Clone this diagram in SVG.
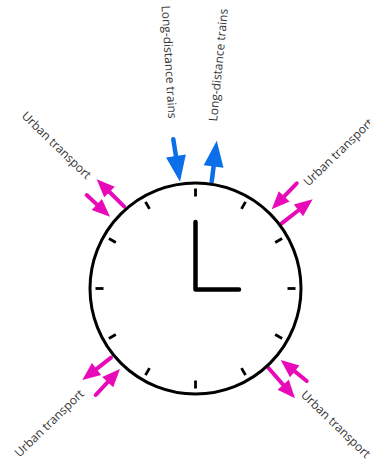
<svg xmlns="http://www.w3.org/2000/svg" width="370" height="460" viewBox="0 0 370 460">
<style>
.lbl{font-family:"Open Sans","Noto Sans",sans-serif;font-size:12px;fill:#333;text-anchor:middle;dominant-baseline:central}
.blue{stroke:#0a6fe8;stroke-width:4.5;stroke-linecap:round;fill:none}
.pink{stroke:#e80ab8;stroke-width:4;stroke-linecap:round;fill:none}
.tick{stroke:#000;stroke-width:2.8}
</style>
<defs>
<marker id="hb" markerUnits="userSpaceOnUse" markerWidth="30" markerHeight="24" refX="0" refY="0" orient="auto" overflow="visible"><path d="M-1,-10 L25,0 L-1,10 Z" fill="#0a6fe8"/></marker>
<marker id="hp" markerUnits="userSpaceOnUse" markerWidth="20" markerHeight="16" refX="0" refY="0" orient="auto" overflow="visible"><path d="M-1,-7.5 L17,0 L-1,7.5 Z" fill="#e80ab8"/></marker>
</defs>
<g id="connectors">
<line class="blue" x1="173.3" y1="139.3" x2="176.1" y2="157" marker-end="url(#hb)"/>
<line class="blue" x1="211.7" y1="181.7" x2="213.7" y2="165.5" marker-end="url(#hb)"/>
<line class="pink" x1="86.7" y1="195" x2="97.56" y2="205.11" marker-end="url(#hp)"/>
<line class="pink" x1="124.3" y1="206.7" x2="108.76" y2="191.28" marker-end="url(#hp)"/>
<line class="pink" x1="296.7" y1="183.3" x2="283.48" y2="197.05" marker-end="url(#hp)"/>
<line class="pink" x1="281.7" y1="223.3" x2="299.26" y2="209.71" marker-end="url(#hp)"/>
<line class="pink" x1="111" y1="357.7" x2="95.72" y2="369.57" marker-end="url(#hp)"/>
<line class="pink" x1="95.7" y1="395" x2="108.39" y2="381.42" marker-end="url(#hp)"/>
<line class="pink" x1="268.3" y1="367.7" x2="283.82" y2="385.49" marker-end="url(#hp)"/>
<line class="pink" x1="306.7" y1="381" x2="293.93" y2="370.68" marker-end="url(#hp)"/>
</g>
<g id="clock">
<circle cx="195.5" cy="288.5" r="105.5" fill="#fff" stroke="#000" stroke-width="3"/>
<g transform="translate(195.5,288.5)">
<line class="tick" x1="0" y1="-92" x2="0" y2="-100"/>
<line class="tick" x1="0" y1="-92" x2="0" y2="-100" transform="rotate(30)"/>
<line class="tick" x1="0" y1="-92" x2="0" y2="-100" transform="rotate(60)"/>
<line class="tick" x1="0" y1="-92" x2="0" y2="-100" transform="rotate(90)"/>
<line class="tick" x1="0" y1="-92" x2="0" y2="-100" transform="rotate(120)"/>
<line class="tick" x1="0" y1="-92" x2="0" y2="-100" transform="rotate(150)"/>
<line class="tick" x1="0" y1="-92" x2="0" y2="-100" transform="rotate(180)"/>
<line class="tick" x1="0" y1="-92" x2="0" y2="-100" transform="rotate(210)"/>
<line class="tick" x1="0" y1="-92" x2="0" y2="-100" transform="rotate(240)"/>
<line class="tick" x1="0" y1="-92" x2="0" y2="-100" transform="rotate(270)"/>
<line class="tick" x1="0" y1="-92" x2="0" y2="-100" transform="rotate(300)"/>
<line class="tick" x1="0" y1="-92" x2="0" y2="-100" transform="rotate(330)"/>
<path d="M0,-66.5 L0,1 L43.5,1" fill="none" stroke="#000" stroke-width="4.5" stroke-linecap="round" stroke-linejoin="round"/>
</g>
</g>
<g id="label-ld-in"><text class="lbl" transform="translate(169.5,62) rotate(86.5)">Long-distance trains</text></g>
<g id="label-ld-out"><text class="lbl" transform="translate(218,65) rotate(-84.5)">Long-distance trains</text></g>
<g id="label-ut-ul"><text class="lbl" transform="translate(56.7,145) rotate(44)">Urban transport</text></g>
<g id="label-ut-ur"><text class="lbl" transform="translate(338,152) rotate(-44)">Urban transport</text></g>
<g id="label-ut-ll"><text class="lbl" transform="translate(49,423) rotate(-44)">Urban transport</text></g>
<g id="label-ut-lr"><text class="lbl" transform="translate(336,424) rotate(44)">Urban transport</text></g>
</svg>
